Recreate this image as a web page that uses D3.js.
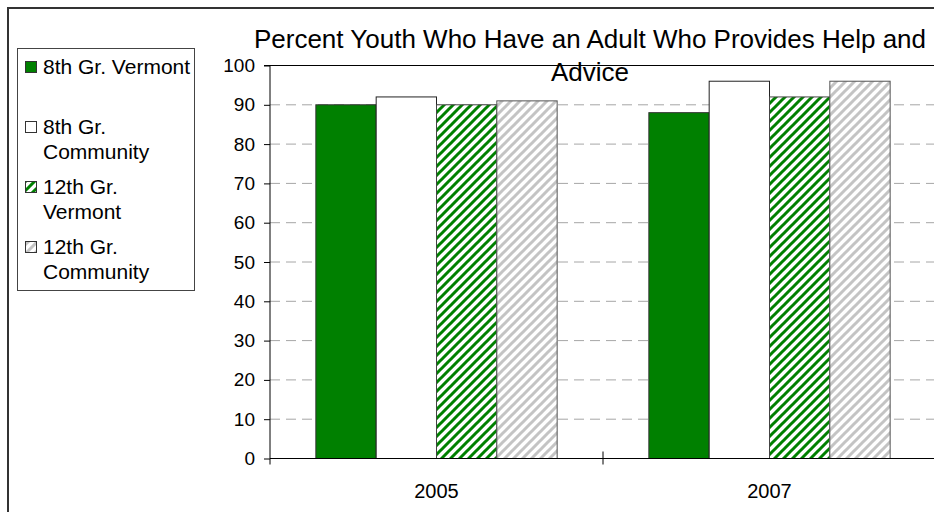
<!DOCTYPE html>
<html>
<head>
<meta charset="utf-8">
<script src="https://cdn.jsdelivr.net/npm/d3@7"></script>
<style>
  body { margin: 0; background: #fff; }
  svg { display: block; font-family: "Liberation Sans", Arial, sans-serif; }
</style>
</head>
<body>
<svg></svg>
<script>
const years = ['2005', '2007'];
const seriesNames = ['8th Gr. Vermont', '8th Gr. Community', '12th Gr. Vermont', '12th Gr. Community'];
const legendLines = [['8th Gr. Vermont'], ['8th Gr.', 'Community'], ['12th Gr.', 'Vermont'], ['12th Gr.', 'Community']];
const values2005 = [90, 92, 90, 91];
const values2007 = [88, 96, 92, 96];
const yTicks = [0, 10, 20, 30, 40, 50, 60, 70, 80, 90, 100];
const titleLines = ['Percent Youth Who Have an Adult Who Provides Help and', 'Advice'];

const svg = d3.select('svg')
	.attr('width', 934)
	.attr('height', 512);

const defs = svg.append('defs');
function hatch(id, color) {
	const p = defs.append('pattern')
		.attr('id', id)
		.attr('patternUnits', 'userSpaceOnUse')
		.attr('width', 9)
		.attr('height', 9);
	p.append('rect').attr('width', 9).attr('height', 9).attr('fill', '#fff');
	p.append('path')
		.attr('d', 'M-2,2 L2,-2 M0,9 L9,0 M7,11 L11,7')
		.attr('stroke', color)
		.attr('stroke-width', 3);
}
hatch('greenHatch', '#008000');
hatch('greyHatch', '#c4c4c4');

const fills = ['#008000', '#ffffff', 'url(#greenHatch)', 'url(#greyHatch)'];
const strokes = ['#333', '#222', '#444', '#555'];

// chart frame
svg.append('rect')
	.attr('x', 8).attr('y', 8)
	.attr('width', 940).attr('height', 520)
	.attr('fill', 'none')
	.attr('stroke', '#333')
	.attr('stroke-width', 2);

const x = d3.scaleBand()
	.domain(years)
	.range([270, 936])
	.paddingInner(0);

const x1 = d3.scaleBand()
	.domain(seriesNames)
	.range([0, x.bandwidth()])
	.paddingInner(0)
	.paddingOuter(0.76);

const y = d3.scaleLinear()
	.domain([0, 100])
	.range([458.5, 65.5]);

// gridlines
svg.append('g')
	.selectAll('line')
	.data(yTicks.filter(d => d > 0 && d < 100))
	.join('line')
		.attr('x1', 270).attr('x2', 934)
		.attr('y1', d => y(d)).attr('y2', d => y(d))
		.attr('stroke', '#a6a6a6')
		.attr('stroke-dasharray', '10,6');

svg.append('line')
	.attr('x1', 264).attr('x2', 934)
	.attr('y1', y(100)).attr('y2', y(100))
	.attr('stroke', '#000');

// bars
const rows = years.map((yr, i) => ({
	year: yr,
	vals: (i === 0 ? values2005 : values2007).map((v, j) => ({ name: seriesNames[j], v: v, j: j }))
}));

svg.append('g')
	.selectAll('g')
	.data(rows)
	.join('g')
		.attr('transform', d => `translate(${x(d.year)},0)`)
	.selectAll('rect')
	.data(d => d.vals)
	.join('rect')
		.attr('x', d => x1(d.name))
		.attr('y', d => y(d.v))
		.attr('width', x1.bandwidth())
		.attr('height', d => y(0) - y(d.v))
		.attr('fill', d => fills[d.j])
		.attr('stroke', d => strokes[d.j])
		.attr('stroke-width', 1);

// y axis
const yAxis = svg.append('g')
	.attr('transform', 'translate(270,0)')
	.call(d3.axisLeft(y).tickValues(yTicks).tickSize(6).tickPadding(9));
yAxis.select('.domain').attr('stroke', '#000').attr('d', `M0,${y(100)}V${y(0)}`);
yAxis.selectAll('.tick line').attr('stroke', '#000');
yAxis.selectAll('.tick text')
	.attr('font-size', 19)
	.attr('font-family', '"Liberation Sans", Arial, sans-serif')
	.attr('fill', '#000');

// x axis
const xAxis = svg.append('g')
	.attr('transform', `translate(0,${y(0)})`)
	.call(d3.axisBottom(x).tickSize(0).tickPadding(25));
xAxis.select('.domain').attr('stroke', '#000').attr('d', 'M270,0H934');
xAxis.selectAll('.tick text')
	.attr('font-size', 20)
	.attr('font-family', '"Liberation Sans", Arial, sans-serif')
	.attr('fill', '#000');

// category separators
svg.append('g')
	.selectAll('line')
	.data([270, x('2007')])
	.join('line')
		.attr('x1', d => d).attr('x2', d => d)
		.attr('y1', (d, i) => i === 0 ? y(0) : y(0) - 7)
		.attr('y2', y(0) + 6)
		.attr('stroke', '#000');

// title
svg.append('g')
	.selectAll('text')
	.data(titleLines)
	.join('text')
		.attr('x', 590)
		.attr('y', (d, i) => 48 + i * 33)
		.attr('text-anchor', 'middle')
		.attr('font-size', 26)
		.attr('fill', '#000')
		.text(d => d);

// legend
svg.append('rect')
	.attr('x', 17.5).attr('y', 48.5)
	.attr('width', 177).attr('height', 242)
	.attr('fill', '#fff')
	.attr('stroke', '#444');

const legendBase = [74, 134, 194, 254];
const legend = svg.append('g')
	.selectAll('g')
	.data(seriesNames)
	.join('g');

legend.append('rect')
	.attr('x', 25.5)
	.attr('y', (d, i) => legendBase[i] - 12.5)
	.attr('width', 11).attr('height', 11)
	.attr('fill', (d, i) => fills[i])
	.attr('stroke', '#333');

legend.append('text')
	.attr('font-size', 21)
	.attr('fill', '#000')
	.selectAll('tspan')
	.data((d, i) => legendLines[i].map(t => ({ t: t, i: i })))
	.join('tspan')
		.attr('x', 43)
		.attr('y', (d, k) => legendBase[d.i] + k * 24.5)
		.text(d => d.t);
</script>
</body>
</html>
